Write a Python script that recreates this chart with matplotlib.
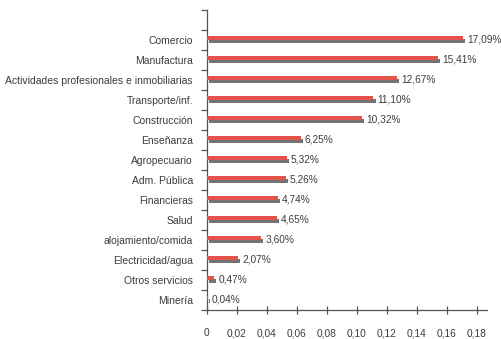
import matplotlib.pyplot as plt
import matplotlib.patheffects as pe
import numpy as np

plt.rcParams['font.family'] = ['Liberation Sans', 'DejaVu Sans']

sectores = ['Comercio', 'Manufactura', 'Actividades profesionales e inmobiliarias',
            'Transporte/inf.', 'Construcción', 'Enseñanza', 'Agropecuario',
            'Adm. Pública', 'Financieras', 'Salud', 'alojamiento/comida',
            'Electricidad/agua', 'Otros servicios', 'Minería']
porcentajes = [17.09, 15.41, 12.67, 11.10, 10.32, 6.25, 5.32,
               5.26, 4.74, 4.65, 3.60, 2.07, 0.47, 0.04]
xticks = [0, 0.02, 0.04, 0.06, 0.08, 0.10, 0.12, 0.14, 0.16, 0.18]

rojo = '#e5524d'
texto = '#3c3c3c'

fig = plt.figure(figsize=(5.01, 3.39), dpi=100)
ax = fig.add_axes([0.413, 0.0855, 0.559, 0.885])

n = len(sectores)
pos = np.arange(n)[::-1]
valores = [p / 100 for p in porcentajes]

# barras rojas con sombra gris desplazada
sombra = [pe.SimplePatchShadow(offset=(1.5, -2.2), shadow_rgbFace='#5a5a5a', alpha=0.85),
          pe.Normal()]
ax.barh(pos + 0.1, valores, height=0.24, color=rojo, linewidth=0,
        path_effects=sombra, zorder=3)

for y, v, p in zip(pos, valores, porcentajes):
    ax.annotate(f'{p:.2f}%'.replace('.', ','), xy=(v, y + 0.05),
                xytext=(3, 0), textcoords='offset points',
                ha='left', va='center', fontsize=7.3, color=texto)

ax.set_xlim(0, 0.1867)
ax.set_ylim(-0.5, n + 0.5)
ax.set_xticks(xticks)
ax.set_xticklabels([f'{t:.2f}'.replace('.', ',') if t else '0' for t in xticks])
ax.set_yticks(pos)
ax.set_yticklabels(sectores)
ax.set_yticks(np.arange(-0.5, n + 1, 1), minor=True)

ax.tick_params(axis='y', which='major', length=0, pad=10, labelsize=7.5, labelcolor=texto)
ax.tick_params(axis='y', which='minor', length=4, width=0.9, color='#555555', direction='out')
ax.tick_params(axis='x', length=6, width=0.9, color='#555555', direction='inout',
               pad=10, labelsize=7.3, labelcolor=texto)

for s in ['top', 'right']:
    ax.spines[s].set_visible(False)
for s in ['left', 'bottom']:
    ax.spines[s].set_color('#555555')
    ax.spines[s].set_linewidth(0.9)

fig.savefig('out.png', dpi=100)
